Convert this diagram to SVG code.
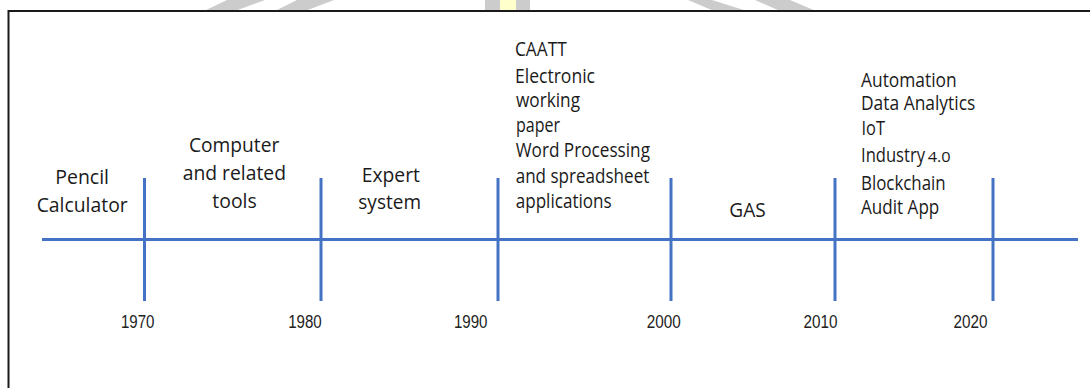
<svg xmlns="http://www.w3.org/2000/svg" width="1090" height="388" viewBox="0 0 1090 388">
  <style>
    .lbl { font-family: "Open Sans", "Noto Sans", sans-serif; font-size: 19.5px; fill: #1a1a1a; }
    .sm { font-size: 15px; }
    .yr { font-family: "Liberation Sans", Arial, sans-serif; font-size: 18px; fill: #222222; text-anchor: middle; }
    .axis { stroke: #4472C4; stroke-width: 3; fill: none; }
    .wm { fill: #cccccc; }
  </style>
  <rect width="1090" height="388" fill="#ffffff"/>
  <g id="watermark">
    <polygon class="wm" points="204,11 235,11 265,0 227,0"/>
    <polygon class="wm" points="275,11 305,11 334,0 297,0"/>
    <rect class="wm" x="485" y="0" width="45" height="11"/>
    <rect x="500" y="0" width="16" height="11" fill="#ffffcc"/>
    <polygon class="wm" points="688,0 712,0 747,11 714,11"/>
    <polygon class="wm" points="755,0 790,0 816,11 780,11"/>
  </g>
  <rect id="frame" x="8.5" y="11" width="1100" height="400" fill="none" stroke="#1a1a1a" stroke-width="2"/>
  <g id="connectors">
    <line class="axis" x1="42" y1="239.5" x2="1078" y2="239.5"/>
    <line class="axis" x1="144.5" y1="178" x2="144.5" y2="301"/>
    <line class="axis" x1="321" y1="178" x2="321" y2="301"/>
    <line class="axis" x1="498" y1="178" x2="498" y2="301"/>
    <line class="axis" x1="671" y1="178" x2="671" y2="301"/>
    <line class="axis" x1="835" y1="178" x2="835" y2="301"/>
    <line class="axis" x1="993" y1="178" x2="993" y2="301"/>
  </g>
  <g id="years">
    <text class="yr" x="137.7" y="328.3" textLength="33.5" lengthAdjust="spacingAndGlyphs">1970</text>
    <text class="yr" x="305" y="328.3" textLength="33.5" lengthAdjust="spacingAndGlyphs">1980</text>
    <text class="yr" x="470.7" y="328.3" textLength="33.5" lengthAdjust="spacingAndGlyphs">1990</text>
    <text class="yr" x="663.8" y="328.3" textLength="34" lengthAdjust="spacingAndGlyphs">2000</text>
    <text class="yr" x="820.5" y="328.3" textLength="34" lengthAdjust="spacingAndGlyphs">2010</text>
    <text class="yr" x="970.5" y="328.3" textLength="34" lengthAdjust="spacingAndGlyphs">2020</text>
  </g>
  <g id="era-pencil">
    <text class="lbl" x="55.3" y="184" textLength="53.7" lengthAdjust="spacingAndGlyphs">Pencil</text>
    <text class="lbl" x="36.7" y="211.7" textLength="91" lengthAdjust="spacingAndGlyphs">Calculator</text>
  </g>
  <g id="era-computer">
    <text class="lbl" x="189" y="152" textLength="90.3" lengthAdjust="spacingAndGlyphs">Computer</text>
    <text class="lbl" x="182.7" y="180" textLength="103.3" lengthAdjust="spacingAndGlyphs">and related</text>
    <text class="lbl" x="212.3" y="208.3" textLength="44.4" lengthAdjust="spacingAndGlyphs">tools</text>
  </g>
  <g id="era-expert">
    <text class="lbl" x="361.7" y="181.7" textLength="58.3" lengthAdjust="spacingAndGlyphs">Expert</text>
    <text class="lbl" x="358.3" y="209.3" textLength="62.7" lengthAdjust="spacingAndGlyphs">system</text>
  </g>
  <g id="era-caatt">
    <text class="lbl" x="515" y="55.5" textLength="51.7" lengthAdjust="spacingAndGlyphs">CAATT</text>
    <text class="lbl" x="515" y="83" textLength="80" lengthAdjust="spacingAndGlyphs">Electronic</text>
    <text class="lbl" x="516" y="106.5" textLength="64" lengthAdjust="spacingAndGlyphs">working</text>
    <text class="lbl" x="516" y="132" textLength="44" lengthAdjust="spacingAndGlyphs">paper</text>
    <text class="lbl" x="515.7" y="157" textLength="134.3" lengthAdjust="spacingAndGlyphs">Word Processing</text>
    <text class="lbl" x="515.7" y="183.3" textLength="133.6" lengthAdjust="spacingAndGlyphs">and spreadsheet</text>
    <text class="lbl" x="515.7" y="208.3" textLength="96" lengthAdjust="spacingAndGlyphs">applications</text>
  </g>
  <g id="era-gas">
    <text class="lbl" x="729.3" y="217.3" textLength="36.4" lengthAdjust="spacingAndGlyphs">GAS</text>
  </g>
  <g id="era-digital">
    <text class="lbl" x="861" y="87" textLength="95.7" lengthAdjust="spacingAndGlyphs">Automation</text>
    <text class="lbl" x="861" y="110" textLength="114.3" lengthAdjust="spacingAndGlyphs">Data Analytics</text>
    <text class="lbl" x="861.5" y="135" textLength="23.5" lengthAdjust="spacingAndGlyphs">IoT</text>
    <text class="lbl" x="861" y="162.3"><tspan textLength="64" lengthAdjust="spacingAndGlyphs">Industry</tspan><tspan class="sm" x="927.7" textLength="23" lengthAdjust="spacingAndGlyphs">4.0</tspan></text>
    <text class="lbl" x="861" y="190" textLength="84.7" lengthAdjust="spacingAndGlyphs">Blockchain</text>
    <text class="lbl" x="861" y="214" textLength="78.3" lengthAdjust="spacingAndGlyphs">Audit App</text>
  </g>
</svg>
